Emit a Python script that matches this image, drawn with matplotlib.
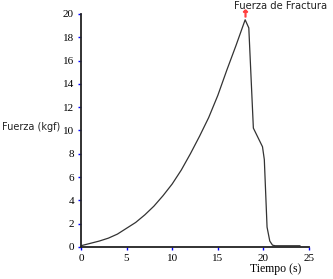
import matplotlib
matplotlib.use("Agg")
import matplotlib.pyplot as plt

tiempo = [0, 1, 2, 3, 4, 5, 6, 7, 8, 9, 10, 11, 12, 13, 14, 15, 16, 17, 18,
          18.4, 18.9, 19.9, 20.1, 20.4, 20.7, 21.0, 21.3, 24]
fuerza = [0.1, 0.3, 0.5, 0.75, 1.1, 1.6, 2.1, 2.75, 3.5, 4.4, 5.4, 6.6, 8.0,
          9.5, 11.1, 13.0, 15.2, 17.3, 19.5, 18.8, 10.2, 8.6, 7.5, 1.7, 0.5,
          0.15, 0.1, 0.1]
pico_t, pico_f = 18, 19.5
xticks = [0, 5, 10, 15, 20, 25]
yticks = [0, 2, 4, 6, 8, 10, 12, 14, 16, 18, 20]

fig = plt.figure(figsize=(3.33, 2.79), dpi=100)
ax = fig.add_axes([0.243, 0.115, 0.685, 0.835])
ax.plot(tiempo, fuerza, color="#333333", lw=0.9)
ax.plot([pico_t], [pico_f + 0.55], marker=r"$\uparrow$", color="#ff4040",
        markersize=5, linestyle="none", clip_on=False)
ax.set_xlim(0, 25)
ax.set_ylim(0, 20)
ax.set_xticks(xticks)
ax.set_yticks(yticks)
for s in ["top", "right"]:
    ax.spines[s].set_visible(False)
for s in ["left", "bottom"]:
    ax.spines[s].set_linewidth(1.3)
    ax.spines[s].set_color("#222222")
ax.tick_params(direction="out", length=2, width=1, color="blue", pad=3,
               labelsize=8)
for lab in ax.get_xticklabels() + ax.get_yticklabels():
    lab.set_family("Liberation Serif")

fig.text(0.006, 1 - 127 / 279, "Fuerza (kgf)", fontsize=7,
         family="DejaVu Sans", va="center", ha="left", color="#222222")
fig.text(276 / 333, 1 - 269 / 279, "Tiempo (s)", fontsize=8.5,
         family="Liberation Serif", va="center", ha="center")
fig.text(281 / 333, 1 - 6 / 279, "Fuerza de Fractura", fontsize=7.2,
         family="DejaVu Sans", va="center", ha="center", color="#222222")

fig.savefig("out.png", dpi=100)
